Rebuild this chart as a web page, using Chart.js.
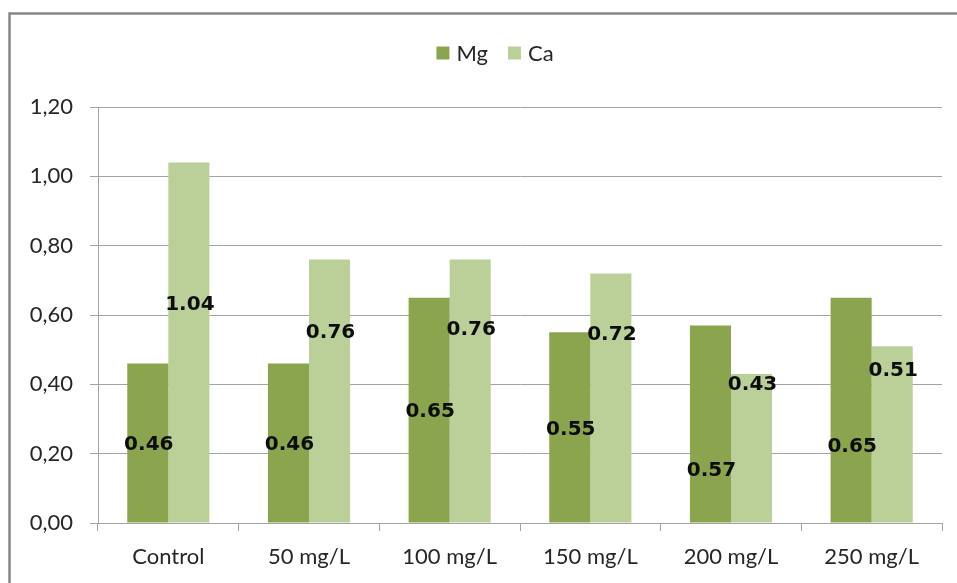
<!DOCTYPE html>
<html>
<head>
<meta charset="utf-8">
<script src="https://cdn.jsdelivr.net/npm/chart.js@4/dist/chart.umd.min.js"></script>
<style>
  html, body { margin: 0; padding: 0; background: #ffffff; }
  #wrap { width: 957px; height: 583px; position: relative; }
</style>
</head>
<body>
<div id="wrap"><canvas id="chart" width="957" height="583"></canvas></div>
<script>
// Categories and series
const categories = ['Control', '50 mg/L', '100 mg/L', '150 mg/L', '200 mg/L', '250 mg/L'];
const mgValues = [0.46, 0.46, 0.65, 0.55, 0.57, 0.65];
const caValues = [1.04, 0.76, 0.76, 0.72, 0.43, 0.51];
const yTicks = [0, 0.2, 0.4, 0.6, 0.8, 1.0, 1.2];

// Where each value label sits, in axis units (labels were placed by hand)
const mgLabelAt = [0.225, 0.225, 0.32, 0.27, 0.15, 0.22];
const caLabelAt = [0.63, 0.55, 0.557, 0.542, 0.40, 0.44];

const MG_COLOR = '#8ba54e';
const CA_COLOR = '#bbd098';
const GRID = '#a3a3a3';
const TEXT = '#262626';
const FONT = 'Lato, "Open Sans", sans-serif';

// Outer frame of the chart object (open on the right and bottom)
const framePlugin = {
  id: 'frame',
  beforeDraw(chart) {
    const ctx = chart.ctx;
    ctx.save();
    ctx.fillStyle = '#ffffff';
    ctx.fillRect(0, 0, chart.width, chart.height);
    ctx.strokeStyle = '#878787';
    ctx.lineWidth = 2.5;
    ctx.beginPath();
    ctx.moveTo(9.5, chart.height + 2);
    ctx.lineTo(9.5, 13.5);
    ctx.lineTo(chart.width + 2, 13.5);
    ctx.stroke();
    ctx.restore();
  }
};

// Legend drawn centred above the plot
const legendPlugin = {
  id: 'topLegend',
  afterDraw(chart) {
    const ctx = chart.ctx;
    const sets = chart.data.datasets;
    ctx.save();
    ctx.font = '22px ' + FONT;
    ctx.textBaseline = 'middle';
    const box = 13, gap = 7, spacing = 20;
    const widths = sets.map(d => box + gap + ctx.measureText(d.label).width);
    const total = widths.reduce((a, b) => a + b, 0) + spacing * (sets.length - 1);
    let x = 495 - total / 2;
    const y = 53;
    sets.forEach((d, i) => {
      ctx.fillStyle = d.backgroundColor;
      ctx.fillRect(x, y - box / 2, box, box);
      ctx.fillStyle = TEXT;
      ctx.fillText(d.label, x + box + gap, y + 1);
      x += widths[i] + spacing;
    });
    ctx.restore();
  }
};

// Bold value labels on the bars
const valueLabelPlugin = {
  id: 'valueLabels',
  afterDatasetsDraw(chart) {
    const ctx = chart.ctx;
    const yScale = chart.scales.y;
    const anchors = [mgLabelAt, caLabelAt];
    ctx.save();
    ctx.font = 'bold 20px "DejaVu Sans", sans-serif';
    ctx.fillStyle = '#0d0d0d';
    ctx.textAlign = 'center';
    ctx.textBaseline = 'middle';
    chart.data.datasets.forEach((ds, di) => {
      const meta = chart.getDatasetMeta(di);
      meta.data.forEach((bar, i) => {
        const y = yScale.getPixelForValue(anchors[di][i]);
        ctx.fillText(ds.data[i].toFixed(2), bar.x + 1, y);
      });
    });
    ctx.restore();
  }
};

new Chart(document.getElementById('chart'), {
  type: 'bar',
  data: {
    labels: categories,
    datasets: [
      { label: 'Mg', data: mgValues, backgroundColor: MG_COLOR },
      { label: 'Ca', data: caValues, backgroundColor: CA_COLOR }
    ]
  },
  options: {
    responsive: false,
    animation: false,
    devicePixelRatio: 1,
    layout: { padding: { top: 107, right: 15, left: 0, bottom: 0 } },
    datasets: {
      bar: { categoryPercentage: 0.584, barPercentage: 1.0, borderWidth: 0 }
    },
    plugins: {
      legend: { display: false },
      tooltip: { enabled: false }
    },
    scales: {
      x: {
        afterFit(scale) { scale.height = 60; },
        grid: {
          offset: true,
          drawOnChartArea: false,
          drawTicks: true,
          tickLength: 8,
          color: GRID,
          lineWidth: 1
        },
        border: { display: true, color: GRID, width: 1 },
        ticks: {
          color: TEXT,
          font: { family: FONT, size: 22 },
          padding: 13,
          maxRotation: 0
        }
      },
      y: {
        min: 0,
        max: 1.2,
        afterFit(scale) { scale.width = 98; },
        afterBuildTicks(scale) { scale.ticks = yTicks.map(v => ({ value: v })); },
        grid: {
          color: GRID,
          lineWidth: 1,
          drawTicks: true,
          tickLength: 8
        },
        border: { display: true, color: GRID, width: 1 },
        ticks: {
          color: TEXT,
          font: { family: FONT, size: 22 },
          padding: 17,
          callback: v => Number(v).toFixed(2).replace('.', ',')
        }
      }
    }
  },
  plugins: [framePlugin, legendPlugin, valueLabelPlugin]
});
</script>
</body>
</html>
